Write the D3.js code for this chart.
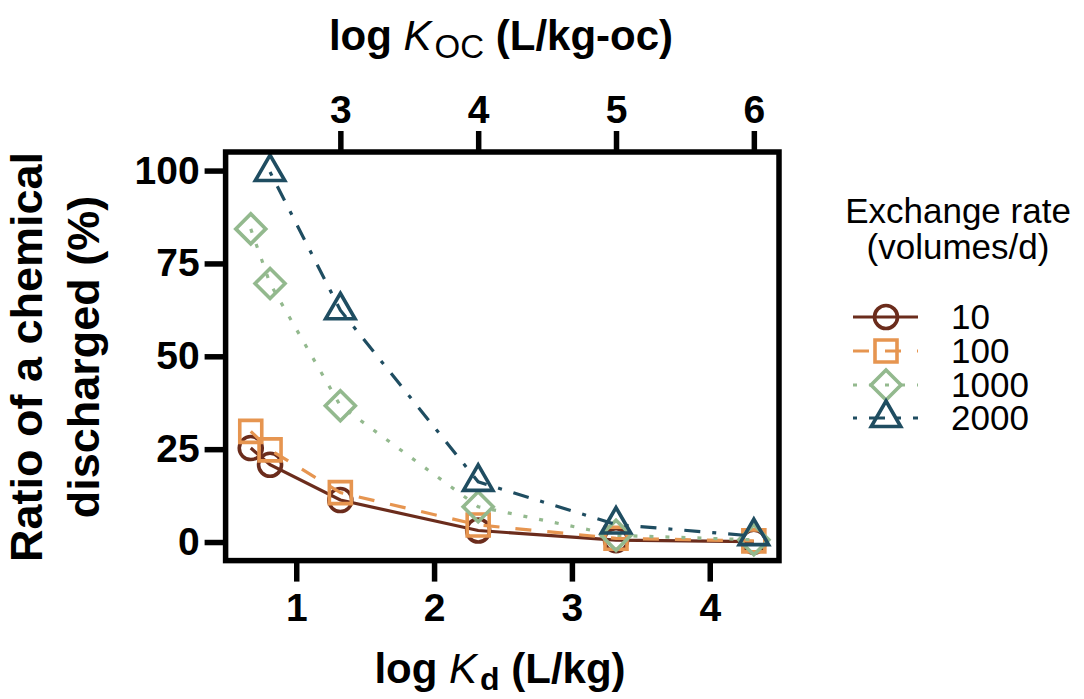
<!DOCTYPE html>
<html><head><meta charset="utf-8">
<script src="https://cdn.jsdelivr.net/npm/d3@7"></script>
<style>
html,body{margin:0;padding:0;background:#fff;}
svg{display:block;font-family:"Liberation Sans",Arial,sans-serif;}
</style></head>
<body>
<svg id="chart" width="1084" height="699"></svg>
<script>
// ---- data ----
const logKd = [0.67, 0.81, 1.32, 2.32, 3.32, 4.32];
const seriesNames = ["10", "100", "1000", "2000"];
const rate10   = [25.3, 20.8, 11.3, 3.1, 0.5, 0.1];
const rate100  = [29.8, 24.8, 13.3, 4.6, 1.0, 0.3];
const rate1000 = [84.3, 69.6, 36.7, 9.5, 1.8, 0.6];
const rate2000 = [null, 99.6, 62.4, 16.2, 4.7, 1.6];
const xTicks = [1, 2, 3, 4];
const yTicks = [0, 25, 50, 75, 100];
const kocTicks = [3, 4, 5, 6];
const kocOffset = 1.68; // log Koc = log Kd + offset

const colors = ["#6b2c1c", "#e69550", "#93b98e", "#1f4d61"];
const dashes = [null, "16,16", "4,12", "4,12,16,12"];
const shapes = ["circle", "square", "diamond", "triangle"];
const allSeries = [rate10, rate100, rate1000, rate2000];

const svg = d3.select("#chart");
const L = 225.6, R = 779, T = 152, B = 560.6;
const xMin = d3.min(logKd), xMax = d3.max(logKd), xPad = (xMax - xMin) * 0.05;
const x = d3.scaleLinear().domain([xMin - xPad, xMax + xPad]).range([L, R]);
const y = d3.scaleLinear().domain([-5, 105]).range([B, T]);

function shapePath(s, cx, cy) {
  if (s === "circle") { const r = 11.5; return `M${cx - r},${cy}a${r},${r} 0 1,0 ${2*r},0a${r},${r} 0 1,0 ${-2*r},0Z`; }
  if (s === "square") { const h = 11; return `M${cx-h},${cy-h}H${cx+h}V${cy+h}H${cx-h}Z`; }
  if (s === "diamond") { const h = 15; return `M${cx},${cy-h}L${cx+h},${cy}L${cx},${cy+h}L${cx-h},${cy}Z`; }
  const r = 17, w = r * Math.sqrt(3) / 2;
  return `M${cx},${cy-r}L${cx+w},${cy+r/2}L${cx-w},${cy+r/2}Z`;
}

// series
allSeries.forEach((vals, i) => {
  const pts = logKd.map((k, j) => ({k, v: vals[j]})).filter(d => d.v !== null);
  const line = d3.line().x(d => x(d.k)).y(d => y(d.v));
  svg.append("path").attr("d", line(pts)).attr("fill", "none")
    .attr("stroke", colors[i]).attr("stroke-width", 3.2)
    .attr("stroke-dasharray", dashes[i]);
  svg.append("g").selectAll("path").data(pts).join("path")
    .attr("d", d => shapePath(shapes[i], x(d.k), y(d.v)))
    .attr("fill", "none").attr("stroke", colors[i]).attr("stroke-width", 3.6);
});

// panel border
svg.append("rect").attr("x", L).attr("y", T).attr("width", R - L).attr("height", B - T)
  .attr("fill", "none").attr("stroke", "#000").attr("stroke-width", 5.5);

// axes
const tickStyle = g => {
  g.select(".domain").remove();
  g.selectAll(".tick line").attr("stroke", "#000").attr("stroke-width", 5.5);
  g.selectAll(".tick text").attr("fill", "#000").attr("font-weight", "bold")
    .attr("font-size", 39).attr("font-family", "Liberation Sans, Arial, sans-serif");
};
svg.append("g").attr("transform", `translate(0,${B})`)
  .call(d3.axisBottom(x).tickValues(xTicks).tickSize(21).tickPadding(12).tickFormat(d3.format("d")))
  .call(tickStyle);
svg.append("g").attr("transform", `translate(${L},0)`)
  .call(d3.axisLeft(y).tickValues(yTicks).tickSize(21).tickPadding(5).tickFormat(d3.format("d")))
  .call(tickStyle);
svg.append("g").attr("transform", `translate(0,${T})`)
  .call(d3.axisTop(x).tickValues(kocTicks.map(v => v - kocOffset)).tickSize(21).tickPadding(8)
    .tickFormat(v => d3.format("d")(Math.round(v + kocOffset))))
  .call(tickStyle);

// axis titles
const bt = svg.append("text").attr("x", 500).attr("y", 683).attr("text-anchor", "middle")
  .attr("font-size", 42).attr("font-weight", "bold");
bt.append("tspan").text("log ");
bt.append("tspan").attr("font-style", "italic").attr("font-weight", "normal").text("K");
bt.append("tspan").attr("font-size", 32).attr("dy", 7).attr("dx", 3).text("d");
bt.append("tspan").attr("dy", -7).text(" (L/kg)");

const tt = svg.append("text").attr("x", 501).attr("y", 50).attr("text-anchor", "middle")
  .attr("font-size", 42).attr("font-weight", "bold");
tt.append("tspan").text("log ");
tt.append("tspan").attr("font-style", "italic").attr("font-weight", "normal").text("K");
tt.append("tspan").attr("font-size", 33).attr("font-weight", "normal").attr("dy", 8).attr("dx", 3).text("OC");
tt.append("tspan").attr("dy", -8).text(" (L/kg-oc)");

const yt = svg.append("text").attr("transform", "translate(42,357) rotate(-90)")
  .attr("text-anchor", "middle").attr("font-size", 45).attr("font-weight", "bold");
yt.append("tspan").attr("x", 0).attr("y", 0).text("Ratio of a chemical");
yt.append("tspan").attr("x", 0).attr("y", 57).text("discharged (%)");

// legend
const lg = svg.append("g");
lg.append("text").attr("x", 958).attr("y", 223).attr("text-anchor", "middle").attr("font-size", 35).text("Exchange rate");
lg.append("text").attr("x", 958).attr("y", 259).attr("text-anchor", "middle").attr("font-size", 35).text("(volumes/d)");
const rowY = [317, 351, 385, 418];
seriesNames.forEach((name, i) => {
  lg.append("line").attr("x1", 853).attr("x2", 918).attr("y1", rowY[i]).attr("y2", rowY[i])
    .attr("stroke", colors[i]).attr("stroke-width", 3.2).attr("stroke-dasharray", dashes[i]);
  lg.append("path").attr("d", shapePath(shapes[i], 886, rowY[i]))
    .attr("fill", "none").attr("stroke", colors[i]).attr("stroke-width", 3.6);
  lg.append("text").attr("x", 951).attr("y", rowY[i] + 12).attr("font-size", 35).text(name);
});
</script>
</body></html>
